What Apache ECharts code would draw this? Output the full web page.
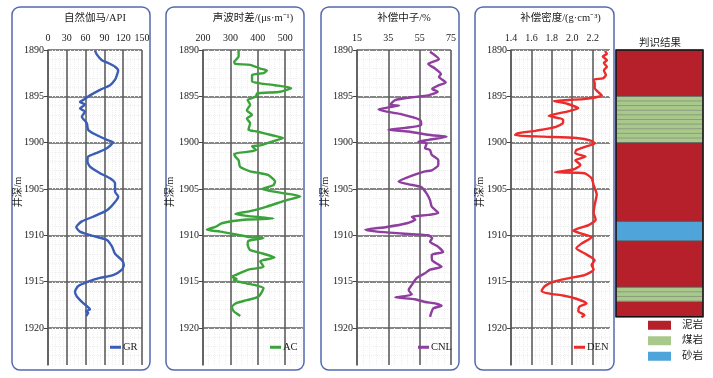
<!DOCTYPE html>
<html><head><meta charset="utf-8">
<script src="https://cdn.jsdelivr.net/npm/echarts@6/dist/echarts.min.js"></script>
<style>html,body{margin:0;padding:0;background:#fff}#c{width:713px;height:378px}</style>
</head><body><div id="c"></div>
<script>
// ---- data ----
const grDepth = [1890.07,1890.5,1891.1,1891.4,1891.8,1892.2,1892.7,1893.2,1893.8,1894.3,1894.9,1895.4,1895.6,1895.9,1896.3,1896.65,1897.2,1897.9,1898.6,1899.1,1899.7,1899.96,1900.6,1901.1,1901.5,1902.05,1902.6,1903.3,1903.85,1904.4,1905.3,1905.8,1906.4,1907.3,1908,1908.5,1909.1,1909.6,1910.07,1910.5,1911.2,1912.0,1912.7,1913.2,1913.7,1914.3,1914.6,1915,1915.5,1916.1,1916.6,1917.3,1918,1918.2,1918.4,1918.7];
const grValue = [75,78,86,96,107,112,110,107,99,83,67,56,51,59,51,59,54,62,64,75,94,104,94,78,64,63,67,83,99,107,107,112,107,94,72,54,45,51,72,94,102,107,118,121,118,104,83,64,48,43,46,56,67,61,64,61];

const acDepth = [1890,1890.7,1891.3,1891.5,1891.6,1892,1892.2,1892.5,1892.7,1893.4,1893.6,1893.8,1894.1,1894.5,1894.7,1895,1895.4,1895.9,1896.5,1897,1897.4,1897.9,1898.6,1898.8,1899.2,1899.5,1899.8,1900.3,1900.4,1900.8,1901.0,1901.2,1901.5,1901.9,1902.6,1903.1,1903.3,1903.5,1904.2,1904.6,1905,1905.4,1905.8,1906.2,1906.9,1907.4,1907.7,1907.9,1908.2,1908.3,1908.7,1909.1,1909.4,1909.6,1910,1910.2,1910.3,1910.6,1911,1911.6,1911.9,1912.4,1912.8,1913.4,1913.7,1914.3,1914.5,1914.7,1914.85,1915.2,1915.4,1915.7,1916.6,1917,1917.3,1917.7,1918.2,1918.7];
const acValue = [330,330,314,318,372,409,433,421,379,379,409,463,522,482,397,394,363,372,360,379,360,372,366,397,452,492,460,409,379,394,360,314,318,330,335,372,409,438,463,457,415,482,555,506,433,372,318,360,457,360,269,245,214,263,336,372,421,366,363,372,409,461,409,421,366,318,304,323,312,360,394,421,403,360,323,306,312,336];

const cnlDepth = [1890.2,1891.0,1891.5,1892,1892.6,1892.9,1893.5,1893.8,1894.2,1894.5,1894.9,1895.1,1895.4,1895.9,1896.0,1896.2,1896.4,1896.65,1896.9,1897.55,1898.1,1898.4,1898.6,1898.8,1899.2,1899.35,1899.7,1899.9,1900.07,1900.6,1900.8,1901.3,1901.9,1902.4,1903,1903.1,1903.5,1904.2,1904.5,1904.8,1905.5,1906.2,1906.9,1907.6,1907.8,1908,1908.3,1908.7,1909.1,1909.4,1909.6,1909.8,1910,1910.3,1910.7,1911.2,1911.8,1912.1,1912.7,1913.4,1913.7,1914.1,1914.6,1915.35,1915.9,1916.4,1916.7,1916.9,1917.2,1917.35,1917.6,1917.9,1918.8];
const cnlValue = [61.6,67.3,60.5,64.8,68.6,67.3,71.6,67.3,63,66.5,60.5,50,39.4,36.2,42,35,28.7,34,42.5,55.3,56,45.7,35,47.8,62.7,72.2,60.5,54.2,59.5,58.4,61.6,62.7,66.9,66.9,62.7,58.4,51,41.5,48,56,59.5,61.6,62.7,66.9,60.5,50,52.2,46.8,34,20.3,27.7,43.6,60.5,63,61.6,66.5,70,62.7,63,69,61.6,58.4,53.2,50,48,50,39.4,52,58.4,64.8,69,63.7,61.6];

const denDepth = [1890.1,1890.4,1890.7,1891.1,1891.4,1891.8,1892.2,1892.7,1893.05,1893.2,1893.6,1894.1,1894.5,1894.9,1895.3,1895.5,1895.8,1896.3,1896.65,1897.1,1897.5,1897.85,1898.3,1898.7,1899.0,1899.2,1899.35,1899.5,1899.8,1900.1,1900.4,1900.8,1901.15,1901.5,1901.9,1902.4,1902.9,1903.2,1903.3,1903.85,1904.6,1905.6,1906.7,1907.6,1908.3,1908.9,1909.5,1909.85,1910.2,1910.9,1911.4,1911.95,1912.7,1913.2,1913.7,1914.3,1914.6,1915,1915.5,1916,1916.3,1916.5,1916.85,1917.35,1917.7,1918.2,1918.6,1918.85];
const denValue = [2.32,2.34,2.30,2.34,2.31,2.34,2.31,2.33,2.30,2.21,2.22,2.22,2.25,2.29,2.11,1.82,1.95,2.06,1.95,1.77,1.91,1.91,1.84,1.65,1.46,1.44,1.72,2.04,2.19,2.22,2.14,2.04,2.03,2.13,2.03,2.08,2.01,1.83,2.12,2.19,2.21,2.24,2.22,2.21,2.23,2.16,2.01,2.1,2.19,2.09,2.04,2.12,2.22,2.19,2.21,2.12,1.98,1.82,1.73,1.70,1.78,1.91,2.04,2.14,2.07,2.06,2.12,2.09];

const lithTop    = [1890, 1895, 1900, 1908.5, 1910.6, 1915.6, 1917.15];
const lithBottom = [1895, 1900, 1908.5, 1910.6, 1915.6, 1917.15, 1918.8];
const lithType   = ['泥岩','煤岩','泥岩','砂岩','泥岩','煤岩','泥岩'];
const lithNames  = ['泥岩','煤岩','砂岩'];

const curveNames  = ['GR','AC','CNL','DEN'];
const curveTitles = ['自然伽马/API','声波时差/(μs·m⁻¹)','补偿中子/%','补偿密度/(g·cm⁻³)'];
const xMin = [0, 200, 15, 1.4];
const xMax = [150, 565, 75, 2.37];
const xStep = [30, 100, 20, 0.2];
const depthMin = 1890, depthMax = 1924, depthStep = 5;
const depthName = '井深/m';
const lithTitle = '判识结果';

// ---- styling / layout ----
const serif = '"Liberation Serif","Times New Roman","Noto Sans CJK SC",serif';
const colors = ['#3A5DB5','#3AA33A','#8E3E9E','#EE2A2A'];
const lithColors = {'泥岩':'#B5202B','煤岩':'#A9C98C','砂岩':'#4FA4DA'};
const gridLefts = [48, 203, 357, 511];
const gridWidths = [94, 100, 94, 99];
const boxX = [12, 166, 321, 475];
const boxW = [138, 138, 138, 139];
const nameX = [18, 170, 325, 480];
const legendLeft = [110, 270, 418, 574];
const depths = [grDepth, acDepth, cnlDepth, denDepth];
const values = [grValue, acValue, cnlValue, denValue];
const gridColor = '#5e5e5e';

const grid = [], xAxis = [], yAxis = [], series = [], legend = [], graphic = [];
for (let i = 0; i < 4; i++) {
  grid.push({left: gridLefts[i], width: gridWidths[i], top: 50, height: 315});
  xAxis.push({
    type: 'value', gridIndex: i, position: 'top', min: xMin[i], max: xMax[i], interval: xStep[i],
    name: curveTitles[i], nameLocation: 'middle', nameGap: 27,
    nameTextStyle: {fontFamily: serif, fontSize: 10.5, color: '#222'},
    axisLine: {show: false}, axisTick: {show: false},
    axisLabel: {margin: 7, fontFamily: serif, fontSize: 10, color: '#222', showMaxLabel: i === 0 || i === 2,
      formatter: i === 3 ? (v => v.toFixed(1)) : (v => String(v))},
    splitLine: {show: true, showMaxLine: i === 0 || i === 2, lineStyle: {color: gridColor, width: 1.6}},
    minorTick: {show: false, splitNumber: 5},
    minorSplitLine: {show: true, lineStyle: {color: '#efefef', type: 'dotted'}}
  });
  yAxis.push({
    type: 'value', gridIndex: i, inverse: true, min: depthMin, max: depthMax, interval: depthStep,
    axisLine: {show: true, lineStyle: {color: gridColor, width: 1.6}},
    axisTick: {show: true, length: 4, lineStyle: {color: '#444'}},
    axisLabel: {margin: 4, fontFamily: serif, fontSize: 10, color: '#222', showMaxLabel: false,
      formatter: v => String(v)},
    splitLine: {show: true, showMaxLine: false, lineStyle: {color: gridColor, width: 1.6}},
    minorTick: {show: false, splitNumber: 5},
    minorSplitLine: {show: true, lineStyle: {color: '#efefef', type: 'dotted'}}
  });
  series.push({
    type: 'line', name: curveNames[i], xAxisIndex: i, yAxisIndex: i,
    data: depths[i].map((d, k) => [values[i][k], d]),
    symbol: 'none', smooth: 0.2, z: 5,
    lineStyle: {color: colors[i], width: 2.4}, itemStyle: {color: colors[i]}
  });
  legend.push({
    data: [curveNames[i]], left: legendLeft[i], top: 342, padding: 0,
    icon: 'rect', itemWidth: 11, itemHeight: 3,
    textStyle: {fontFamily: serif, fontSize: 10.5, color: '#222', padding: [0,0,0,-3]}
  });
  graphic.push({type: 'rect', shape: {x: boxX[i], y: 7, width: boxW[i], height: 363, r: 8},
    style: {fill: 'none', stroke: '#5468B0', lineWidth: 1.5}, silent: true});
  graphic.push({type: 'text', x: nameX[i], y: 192, rotation: Math.PI / 2,
    style: {text: depthName, font: '10px ' + serif, fill: '#222', align: 'center', verticalAlign: 'middle'}});
}

// lithology column
grid.push({left: 616, width: 87, top: 50, height: 315});
xAxis.push({type: 'value', gridIndex: 4, min: 0, max: 1, show: false});
yAxis.push({type: 'value', gridIndex: 4, inverse: true, min: depthMin, max: depthMax, show: false});
lithNames.forEach(nm => {
  const data = [];
  lithTop.forEach((t, k) => { if (lithType[k] === nm) data.push([t, lithBottom[k]]); });
  series.push({
    type: 'custom', name: nm, xAxisIndex: 4, yAxisIndex: 4, data: data,
    itemStyle: {color: lithColors[nm]},
    renderItem: function (params, api) {
      const t = api.value(0), b = api.value(1);
      const p0 = api.coord([0, t]), p1 = api.coord([1, b]);
      const children = [{type: 'rect', shape: {x: p0[0], y: p0[1], width: p1[0] - p0[0], height: p1[1] - p0[1]},
        style: {fill: lithColors[nm], stroke: '#555', lineWidth: 0.8}}];
      if (nm === '煤岩') {
        for (let d = t + 0.5; d < b - 0.05; d += 0.5) {
          const y = api.coord([0, d])[1];
          children.push({type: 'line', shape: {x1: p0[0], y1: y, x2: p1[0], y2: y},
            style: {stroke: '#8a9c7c', lineWidth: 1}});
        }
      }
      return {type: 'group', children: children};
    }
  });
});
// outer border of lithology column
series.push({
  type: 'custom', name: 'border', xAxisIndex: 4, yAxisIndex: 4, data: [[lithTop[0], lithBottom[lithBottom.length - 1]]], z: 10,
  renderItem: function (params, api) {
    const p0 = api.coord([0, api.value(0)]), p1 = api.coord([1, api.value(1)]);
    return {type: 'rect', shape: {x: p0[0], y: p0[1], width: p1[0] - p0[0], height: p1[1] - p0[1]},
      style: {fill: 'none', stroke: '#111', lineWidth: 1.5}};
  }
});
legend.push({
  data: lithNames, orient: 'vertical', left: 648, top: 320, padding: 0, itemGap: 5,
  icon: 'rect', itemWidth: 23, itemHeight: 9,
  textStyle: {fontFamily: serif, fontSize: 10.5, color: '#222', padding: [0,0,0,6]}
});
graphic.push({type: 'text', x: 660, y: 43,
  style: {text: lithTitle, font: '10.5px ' + serif, fill: '#222', align: 'center', verticalAlign: 'middle'}});

const chart = echarts.init(document.getElementById('c'), null, {renderer: 'canvas'});
chart.setOption({animation: false, backgroundColor: '#fff', grid, xAxis, yAxis, series, legend, graphic});
</script></body></html>
